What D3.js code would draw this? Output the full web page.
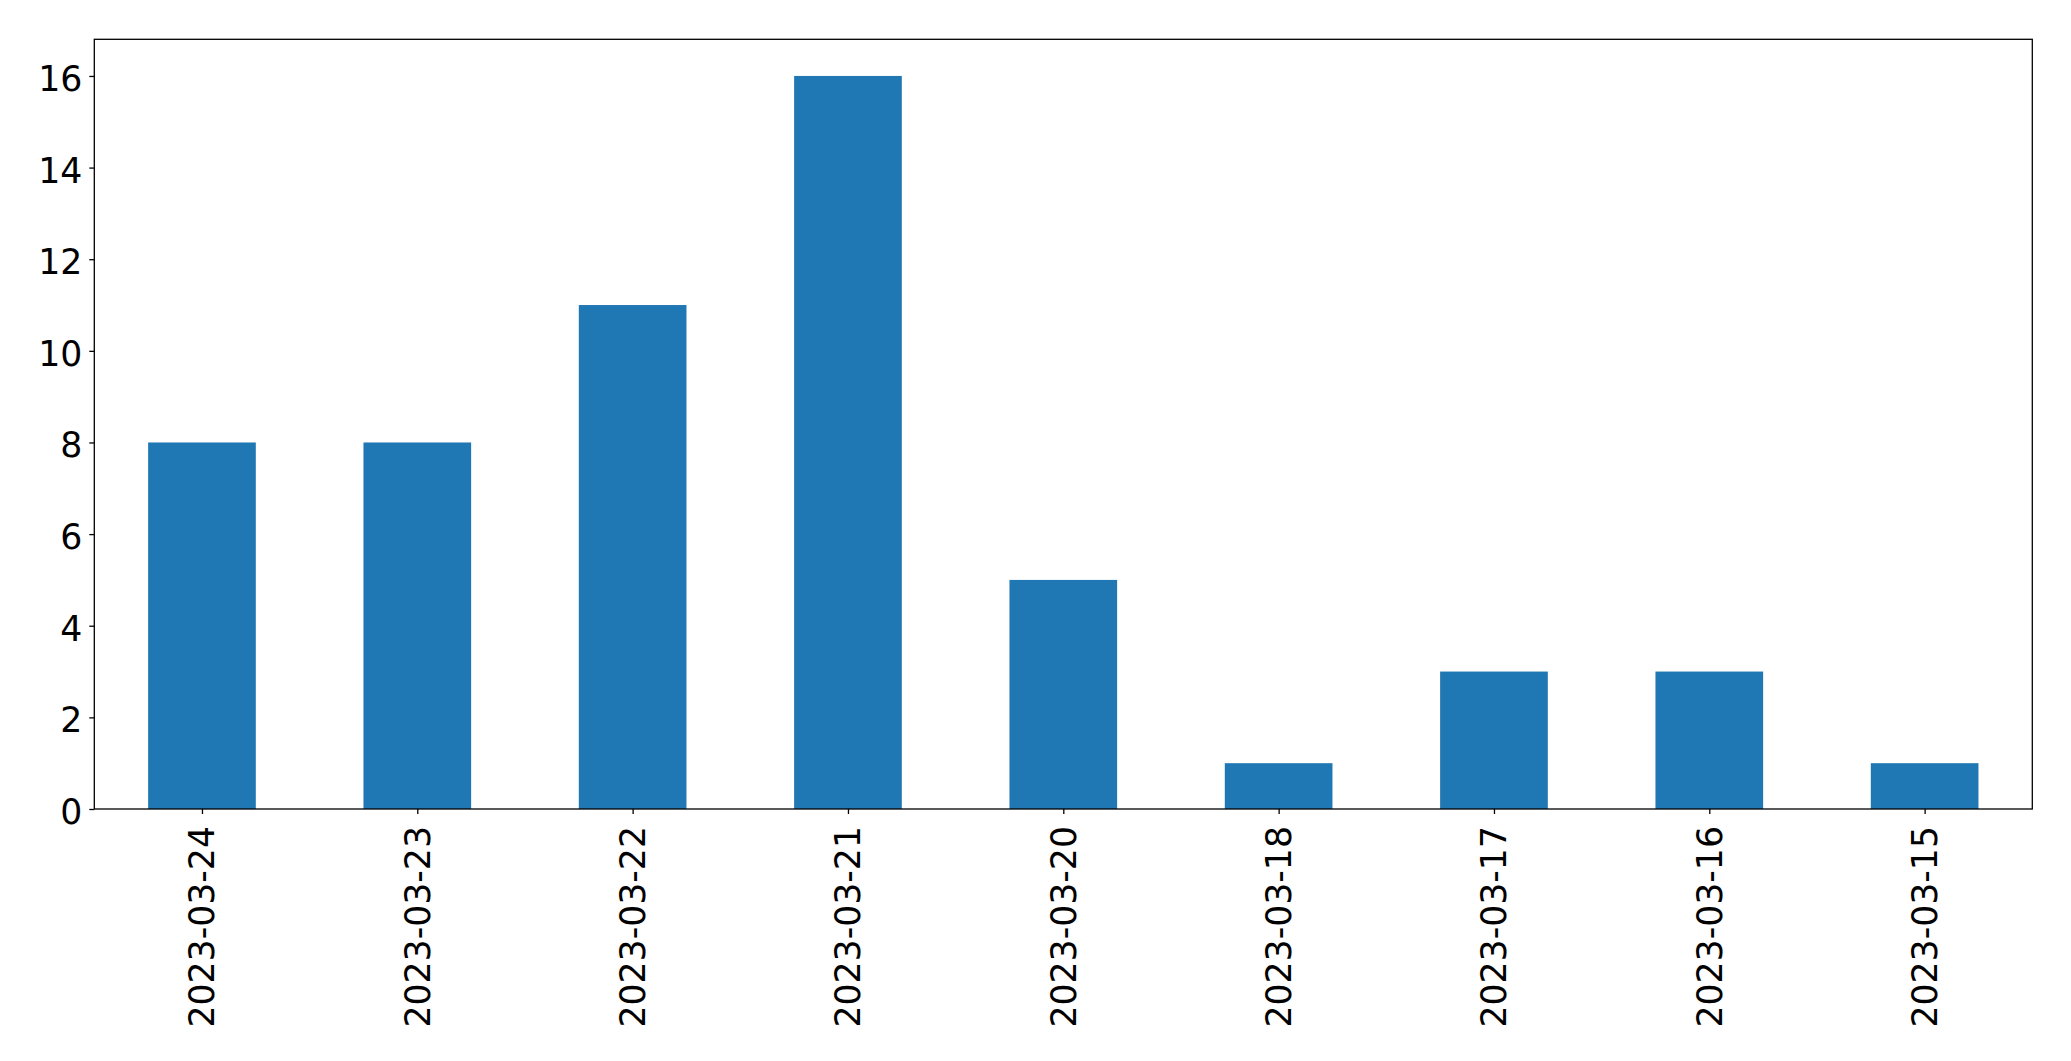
<!DOCTYPE html>
<html><head><meta charset="utf-8">
<script src="https://cdn.jsdelivr.net/npm/d3@7"></script>
<style>body{margin:0;background:#fff;} svg{display:block;}</style>
</head><body>
<script>
const categories = ["2023-03-24","2023-03-23","2023-03-22","2023-03-21","2023-03-20","2023-03-18","2023-03-17","2023-03-16","2023-03-15"];
const values = [8, 8, 11, 16, 5, 1, 3, 3, 1];
const yTicks = [0, 2, 4, 6, 8, 10, 12, 14, 16];

const W = 2071, H = 1061;
const L = 94.3, R = 2032.3, T = 39.3, B = 809;
const fontSize = 34.7;
const svg = d3.select("body").append("svg").attr("width", W).attr("height", H);

const x = d3.scaleLinear().domain([-0.5, categories.length - 0.5]).range([L, R]);
const y = d3.scaleLinear().domain([0, 16.8]).range([B, T]);

svg.append("g").selectAll("rect").data(values).join("rect")
  .attr("x", (d, i) => x(i - 0.25))
  .attr("width", (d, i) => x(i + 0.25) - x(i - 0.25))
  .attr("y", d => y(d))
  .attr("height", d => y(0) - y(d))
  .attr("fill", "#1f77b4");

// frame
svg.append("rect").attr("x", L).attr("y", T).attr("width", R - L).attr("height", B - T)
  .attr("fill", "none").attr("stroke", "#000").attr("stroke-width", 1.3);

// y axis
const yAxis = d3.axisLeft(y).tickValues(yTicks).tickSize(5).tickPadding(7);
const gy = svg.append("g").attr("transform", `translate(${L},0)`).call(yAxis);
gy.select(".domain").remove();
gy.selectAll("line").attr("stroke", "#000").attr("stroke-width", 1.3);
gy.selectAll("text").attr("font-family", "DejaVu Sans").attr("font-size", fontSize)
  .attr("fill", "#000").attr("dy", null).attr("dominant-baseline", "central").attr("transform", "translate(0,2.5)");

// x axis
const xAxis = d3.axisBottom(x).tickValues(d3.range(categories.length)).tickFormat(i => categories[i]).tickSize(5);
const gx = svg.append("g").attr("transform", `translate(0,${B})`).call(xAxis);
gx.select(".domain").remove();
gx.selectAll("line").attr("stroke", "#000").attr("stroke-width", 1.3);
gx.selectAll("text").attr("font-family", "DejaVu Sans").attr("font-size", fontSize)
  .attr("fill", "#000").attr("dy", null).attr("y", null)
  .attr("text-anchor", "end").attr("dominant-baseline", "central")
  .attr("transform", "translate(0,17) rotate(-90)");
</script>
</body></html>
